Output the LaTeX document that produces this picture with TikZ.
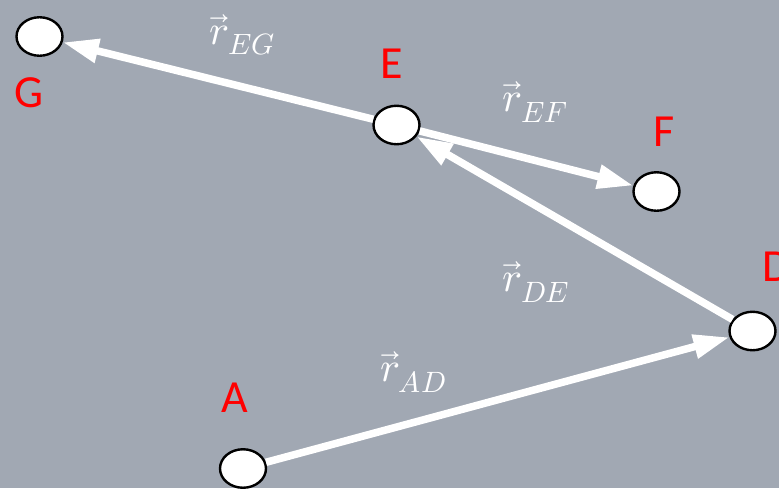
\documentclass[tikz,border=0pt]{standalone}
\usepackage{fontspec}
\usepackage{unicode-math}
\setmainfont{Carlito}
\setmathfont{Latin Modern Math}
\usetikzlibrary{shapes.geometric, arrows.meta}
\definecolor{slidebg}{HTML}{A1A8B3}

\begin{document}
\begin{tikzpicture}[x=1pt, y=-1pt,
    point/.style={ellipse, draw=black, fill=white, line width=2.4pt,
        minimum width=46pt, minimum height=38.5pt, inner sep=0pt},
    vecarrow/.style={-{Triangle[length=36pt, width=23pt]}, white, line width=7.5pt},
    ptlabel/.style={text=red, anchor=base west, inner sep=0pt,
        font=\fontsize{46}{50}\selectfont},
    veclabel/.style={text=white, inner sep=0pt, font=\fontsize{42}{46}\selectfont}]

    % BACKGROUND
    \fill[slidebg] (0,0) rectangle (779,488);
    \useasboundingbox (0,0) rectangle (779,488);

    % POINTS
    \node[point] (G) at (39.5,36.5) {};
    \node[point] (E) at (396.5,125) {};
    \node[point] (F) at (656.5,191.5) {};
    \node[point] (D) at (752.5,331) {};
    \node[point] (A) at (243,468.5) {};

    % POINT NAMES
    \node[ptlabel] (nameG) at (14,107) {G};
    \node[ptlabel] (nameE) at (380,78) {E};
    \node[ptlabel] (nameF) at (653,146) {F};
    \node[ptlabel] (nameD) at (762,281) {D};
    \node[ptlabel] (nameA) at (221,412) {A};

    % DISPLACEMENT VECTORS
    \draw[vecarrow] (E) -- (G);
    \draw[vecarrow] (E) -- (F);
    \draw[vecarrow] (D) -- (E);
    \draw[vecarrow] (A) -- (D);

    % VECTOR NAMES
    \node[veclabel] (vecEG) at (242,35) {$\vec{r}_{EG}$};
    \node[veclabel] (vecEF) at (535,102) {$\vec{r}_{EF}$};
    \node[veclabel] (vecDE) at (536,282) {$\vec{r}_{DE}$};
    \node[veclabel] (vecAD) at (413,372) {$\vec{r}_{AD}$};

\end{tikzpicture}
\end{document}
